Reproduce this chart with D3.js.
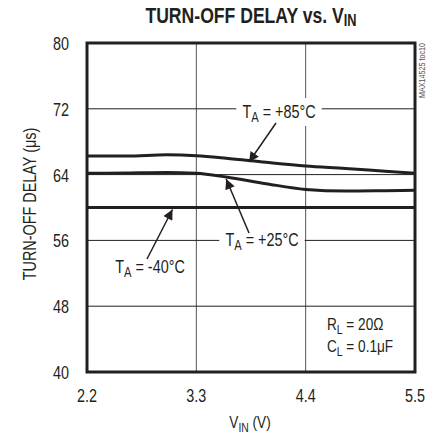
<!DOCTYPE html>
<html>
<head>
<meta charset="utf-8">
<title>Turn-off delay vs VIN</title>
<script src="https://cdn.jsdelivr.net/npm/d3@7"></script>
<style>
  body { margin: 0; background: #fff; }
  svg text { font-family: "Liberation Sans", Arial, sans-serif; fill: #231f20; }
</style>
</head>
<body>
<svg id="chart" width="427" height="437"></svg>
<script>
  // data
  var vin = [2.2, 2.6, 3.0, 3.3, 3.6, 4.0, 4.4, 4.8, 5.2, 5.5];
  var t85 = [66.25, 66.25, 66.4, 66.3, 66.0, 65.5, 65.05, 64.75, 64.4, 64.15];
  var t25 = [64.15, 64.2, 64.25, 64.15, 63.7, 62.9, 62.2, 62.0, 62.05, 62.1];
  var tm40 = [60.0, 60.0, 60.0, 60.0, 60.0, 60.0, 60.0, 60.0, 60.0, 60.0];
  var xTicks = [2.2, 3.3, 4.4, 5.5];
  var yTicks = [40, 48, 56, 64, 72, 80];

  var svg = d3.select('#chart');
  var m = {left: 87, right: 415, top: 43, bottom: 372};
  var SX = 0.8; // condensed look

  var x = d3.scaleLinear().domain([2.2, 5.5]).range([m.left, m.right]);
  var y = d3.scaleLinear().domain([40, 80]).range([m.bottom, m.top]);

  // text helper: horizontally squeezed text
  function txt(parent, tx, ty, size, anchor, extra) {
    return parent.append('text')
      .attr('transform', 'translate(' + tx + ',' + ty + ')' + (extra || '') + ' scale(' + SX + ',1)')
      .attr('text-anchor', anchor)
      .style('font-size', size + 'px');
  }
  function sub(t, main, s, rest, size) {
    t.append('tspan').text(main);
    t.append('tspan').attr('dy', 4).style('font-size', Math.round(size * 0.75) + 'px').text(s);
    t.append('tspan').attr('dy', -4).text(rest);
    return t;
  }

  // grid
  svg.append('g').selectAll('line')
    .data(xTicks.slice(1, -1)).enter().append('line')
      .attr('x1', function(d) { return x(d); }).attr('x2', function(d) { return x(d); })
      .attr('y1', m.top).attr('y2', m.bottom)
      .attr('stroke', '#555').attr('stroke-width', 1);
  svg.append('g').selectAll('line')
    .data(yTicks.slice(1, -1)).enter().append('line')
      .attr('x1', m.left).attr('x2', m.right)
      .attr('y1', function(d) { return y(d); }).attr('y2', function(d) { return y(d); })
      .attr('stroke', '#231f20').attr('stroke-width', 1);

  // label boxes go above grid, below curves
  var labels = svg.append('g');

  // curves
  var line = d3.line()
    .x(function(d) { return x(d[0]); })
    .y(function(d) { return y(d[1]); })
    .curve(d3.curveMonotoneX);
  [t85, t25, tm40].forEach(function(s) {
    svg.append('path')
      .attr('d', line(d3.zip(vin, s)))
      .attr('fill', 'none').attr('stroke', '#231f20').attr('stroke-width', 3);
  });

  // frame
  svg.append('rect')
    .attr('x', m.left).attr('y', m.top)
    .attr('width', m.right - m.left).attr('height', m.bottom - m.top)
    .attr('fill', 'none').attr('stroke', '#231f20').attr('stroke-width', 3);

  // tick labels
  yTicks.forEach(function(d) {
    txt(svg, 69, y(d) + 7, 18, 'end').text(d);
  });
  xTicks.forEach(function(d) {
    txt(svg, x(d), 402, 18, 'middle').text(d.toFixed(1));
  });

  // titles
  var title = txt(svg, 251, 23, 22, 'middle').style('font-weight', 'bold');
  title.append('tspan').text('TURN-OFF DELAY vs. V');
  title.append('tspan').attr('dy', 3).style('font-size', '16px').text('IN');

  sub(txt(svg, 250, 428, 17, 'middle'), 'V', 'IN', ' (V)', 17);

  txt(svg, 36, 204, 18, 'middle', ' rotate(-90)')
    .text('TURN-OFF DELAY (\u03bcs)');

  txt(svg, 425, 43, 9, 'end', ' rotate(-90)')
    .style('fill', '#555')
    .text('MAX14525 toc10');

  // annotations with arrows
  svg.append('defs').append('marker')
    .attr('id', 'ah').attr('viewBox', '0 0 10 10')
    .attr('refX', 10).attr('refY', 5)
    .attr('markerWidth', 15).attr('markerHeight', 10)
    .attr('markerUnits', 'userSpaceOnUse')
    .attr('orient', 'auto')
    .append('path').attr('d', 'M0,0 L10,5 L0,10 z').attr('fill', '#231f20');

  function label(cx, base, s, rest) {
    var g = labels.append('g');
    var box = g.append('rect').attr('fill', '#fff');
    var t = sub(txt(g, cx, base, 18, 'middle'), 'T', s, rest, 18);
    var b = t.node().getBBox();
    var w = b.width * SX + 12;
    box.attr('x', cx - w / 2).attr('y', base - 20).attr('width', w).attr('height', 28);
  }
  function arrow(x1, y1, x2, y2) {
    svg.append('line')
      .attr('x1', x1).attr('y1', y1).attr('x2', x2).attr('y2', y2)
      .attr('stroke', '#231f20').attr('stroke-width', 1.5)
      .attr('marker-end', 'url(#ah)');
  }

  label(279, 118, 'A', ' = +85\u00b0C');
  arrow(276, 123, x(3.83), y(65.65) + 1);
  label(262, 246, 'A', ' = +25\u00b0C');
  arrow(249, 233, x(3.6), y(63.7) + 2);
  label(150, 273, 'A', ' = -40\u00b0C');
  arrow(147, 259, x(3.06), y(60) + 2);

  sub(txt(svg, 327, 330, 17, 'start'), 'R', 'L', ' = 20\u03a9', 17);
  sub(txt(svg, 327, 352, 17, 'start'), 'C', 'L', ' = 0.1\u03bcF', 17);
</script>
</body>
</html>
